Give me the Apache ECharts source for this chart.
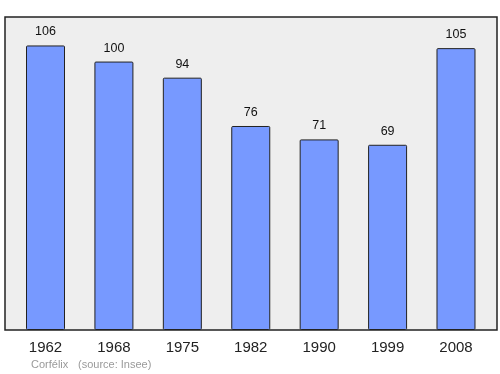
<!DOCTYPE html>
<html><head><meta charset="utf-8">
<script src="https://cdn.jsdelivr.net/npm/echarts@6/dist/echarts.min.js"></script>
<style>html,body{margin:0;padding:0;background:#fff}#c{width:500px;height:374px}</style>
</head><body><div id="c"></div>
<script>
const years = ['1962','1968','1975','1982','1990','1999','2008'];
const population = [106, 100, 94, 76, 71, 69, 105];
const FONT = '"Liberation Sans", Arial, sans-serif';
const chart = echarts.init(document.getElementById('c'));
chart.setOption({
  animation: false,
  grid: [
    {left: 5, right: 3, top: 17, bottom: 44, show: true, backgroundColor: '#eeeeee', borderColor: '#222', borderWidth: 1.5, z: 0},
    {left: 11.3, right: 9.8, top: 17, bottom: 44}
  ],
  xAxis: [
    {gridIndex: 0, type: 'value', show: false, min: 0, max: 1},
    {gridIndex: 1, type: 'category', data: years, axisLine: {show: false}, axisTick: {show: false},
     axisLabel: {color: '#222', fontSize: 15, fontFamily: FONT, margin: 10}}
  ],
  yAxis: [
    {gridIndex: 0, type: 'value', show: false, min: 0, max: 1},
    {gridIndex: 1, type: 'value', min: 0, max: 116.6, show: false}
  ],
  series: [{
    type: 'bar', xAxisIndex: 1, yAxisIndex: 1, data: population, barWidth: 39,
    itemStyle: {color: '#7799ff', borderColor: '#222', borderWidth: 1, borderRadius: 1},
    label: {show: true, position: 'top', distance: 7, color: '#111', fontSize: 12.5, fontFamily: FONT}
  }],
  graphic: [
    {type: 'text', left: 31, top: 359, style: {text: 'Corfélix', fill: '#9a9a9a', fontSize: 11, fontFamily: FONT}},
    {type: 'text', left: 78, top: 359, style: {text: '(source: Insee)', fill: '#9a9a9a', fontSize: 11, fontFamily: FONT}}
  ]
});
</script></body></html>
